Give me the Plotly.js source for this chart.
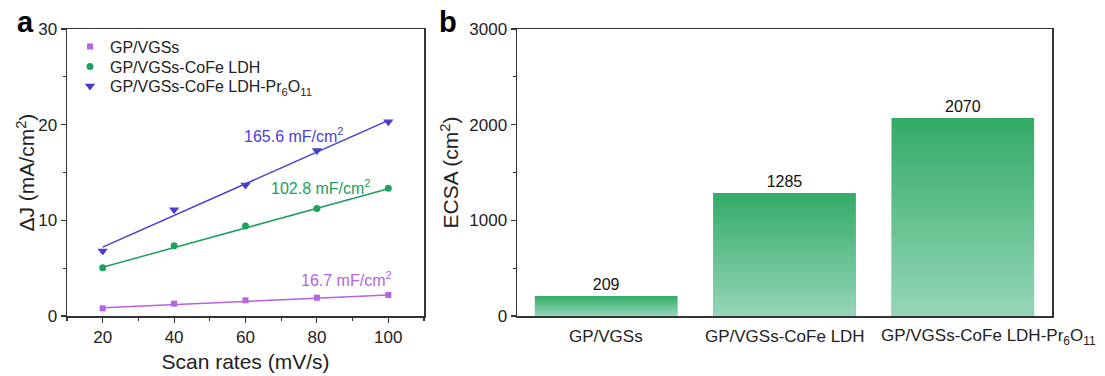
<!DOCTYPE html>
<html>
<head>
<meta charset="utf-8">
<script src="https://cdn.plot.ly/plotly-3.0.1.min.js"></script>
<style>
  html, body { margin: 0; padding: 0; background: #ffffff; }
  #chart { width: 1105px; height: 376px; }
</style>
</head>
<body>
<div id="chart"></div>
<script>
// ---------- Panel a data ----------
const scanRates = [20, 40, 60, 80, 100];
const dJ_GP = [0.80, 1.29, 1.64, 1.91, 2.19];
const dJ_LDH = [5.05, 7.35, 9.40, 11.25, 13.35];
const dJ_Pr = [6.80, 11.10, 13.70, 17.30, 20.30];
const fitX = [20, 100];
const fit_GP = [0.85, 2.19];
const fit_LDH = [5.10, 13.30];
const fit_Pr = [7.20, 20.45];
const seriesNames = ["GP/VGSs", "GP/VGSs-CoFe LDH", "GP/VGSs-CoFe LDH-Pr<sub>6</sub>O<sub>11</sub>"];
const slopeLabels = ["16.7 mF/cm<sup>2</sup>", "102.8 mF/cm<sup>2</sup>", "165.6 mF/cm<sup>2</sup>"];

// ---------- Panel b data ----------
const categories = ["GP/VGSs", "GP/VGSs-CoFe LDH", "GP/VGSs-CoFe LDH-Pr<sub>6</sub>O<sub>11</sub>"];
const ecsa = [209, 1285, 2070];

const cPurple = "#b463e3";
const cGreen = "#20a05e";
const cBlue = "#4a3ed2";
const FONT = "Liberation Sans, Arial, sans-serif";
const W = 1105, H = 376;

const traces = [
  {x: fitX, y: fit_GP, mode: "lines", line: {color: cPurple, width: 1.5}, showlegend: false, xaxis: "x", yaxis: "y", hoverinfo: "skip"},
  {x: fitX, y: fit_LDH, mode: "lines", line: {color: cGreen, width: 1.5}, showlegend: false, xaxis: "x", yaxis: "y", hoverinfo: "skip"},
  {x: fitX, y: fit_Pr, mode: "lines", line: {color: cBlue, width: 1.5}, showlegend: false, xaxis: "x", yaxis: "y", hoverinfo: "skip"},
  {x: scanRates, y: dJ_GP, name: seriesNames[0], legend: "legend", mode: "markers", marker: {symbol: "square", size: 6, color: cPurple}, xaxis: "x", yaxis: "y"},
  {x: scanRates, y: dJ_LDH, name: seriesNames[1], legend: "legend2", mode: "markers", marker: {symbol: "circle", size: 7, color: cGreen}, xaxis: "x", yaxis: "y"},
  {x: scanRates, y: dJ_Pr, name: seriesNames[2], legend: "legend3", mode: "markers", marker: {symbol: "triangle-down", size: 9, color: cBlue}, xaxis: "x", yaxis: "y"},
  {x: categories, y: ecsa, type: "bar", marker: {color: "#5fbf8c", line: {width: 0}}, text: ecsa.map(String), textposition: "outside",
   textfont: {size: 16, color: "#111", family: FONT}, cliponaxis: false, showlegend: false, xaxis: "x2", yaxis: "y2"}
];

const gradSvg = '<svg xmlns="http://www.w3.org/2000/svg" width="100" height="100" viewBox="0 0 100 100" preserveAspectRatio="none">' +
  '<defs><linearGradient id="g" x1="0" y1="0" x2="0" y2="1"><stop offset="0" stop-color="#33ab67"/><stop offset="1" stop-color="#95d6b8"/></linearGradient></defs>' +
  '<rect width="100" height="100" fill="url(#g)"/></svg>';
const gradSrc = "data:image/svg+xml;charset=utf-8," + encodeURIComponent(gradSvg);
const bw = 0.8;
const images = ecsa.map((v, i) => ({
  source: gradSrc, xref: "x2", yref: "y2", x: i - bw / 2, y: v, sizex: bw, sizey: v,
  xanchor: "left", yanchor: "top", sizing: "stretch", layer: "above"
}));

const axisCommon = {
  showline: true, linecolor: "#333", linewidth: 1.5, mirror: true, showgrid: false, zeroline: false,
  ticks: "outside", ticklen: 5, tickwidth: 1.2, tickcolor: "#333",
  tickfont: {family: FONT, size: 17, color: "#222"}
};

const legendBase = {x: 70 / W, xanchor: "left", yanchor: "middle", bgcolor: "rgba(0,0,0,0)",
  font: {family: FONT, size: 16, color: "#222"}, itemwidth: 30};

const catLabelShift = [0, 0, 26];
const catAnnotations = categories.map((c, i) => ({
  text: c, xref: "x2", yref: "paper", x: c, y: -0.073, xanchor: "center", yanchor: "middle",
  xshift: catLabelShift[i], showarrow: false, font: {family: FONT, size: 17, color: "#222"}
}));

const layout = {
  width: W, height: H,
  margin: {l: 0, r: 0, t: 29, b: 60},
  paper_bgcolor: "#ffffff", plot_bgcolor: "#ffffff",
  font: {family: FONT, color: "#222"},
  showlegend: true,
  legend: Object.assign({}, legendBase, {y: 0.9383}),
  legend2: Object.assign({}, legendBase, {y: 0.8687}),
  legend3: Object.assign({}, legendBase, {y: 0.8014}),
  bargap: 0.2,
  xaxis: Object.assign({}, axisCommon, {
    domain: [67 / W, 424 / W], range: [10, 110], tick0: 0, dtick: 20, anchor: "y",
    minor: {dtick: 10, ticks: "outside", ticklen: 3, tickcolor: "#333", tickwidth: 1.2},
    title: {text: "Scan rates (mV/s)", font: {family: FONT, size: 21, color: "#222"}, standoff: 8}
  }),
  yaxis: Object.assign({}, axisCommon, {
    domain: [0, 1], range: [0, 30], dtick: 10, anchor: "x",
    minor: {dtick: 5, ticks: "outside", ticklen: 3, tickcolor: "#333", tickwidth: 1.2}
  }),
  xaxis2: Object.assign({}, axisCommon, {
    domain: [517 / W, 1052 / W], range: [-0.5, 2.5], type: "category", anchor: "y2", ticks: "", showticklabels: false
  }),
  yaxis2: Object.assign({}, axisCommon, {
    domain: [0, 1], range: [0, 3000], dtick: 1000, anchor: "x2",
    minor: {dtick: 500, ticks: "outside", ticklen: 3, tickcolor: "#333", tickwidth: 1.2}
  }),
  images: images,
  annotations: [
    {text: "<b>a</b>", xref: "paper", yref: "paper", x: 25 / W, y: 1.026, xanchor: "center", yanchor: "middle", showarrow: false, font: {family: FONT, size: 29, color: "#000"}},
    {text: "<b>b</b>", xref: "paper", yref: "paper", x: 448 / W, y: 1.026, xanchor: "center", yanchor: "middle", showarrow: false, font: {family: FONT, size: 29, color: "#000"}},
    {text: "ΔJ (mA/cm<sup>2</sup>)", xref: "paper", yref: "paper", x: 25 / W, y: 0.5, xanchor: "center", yanchor: "middle", textangle: -90, showarrow: false, font: {family: FONT, size: 21, color: "#222"}},
    {text: "ECSA (cm<sup>2</sup>)", xref: "paper", yref: "paper", x: 449 / W, y: 0.5, xanchor: "center", yanchor: "middle", textangle: -90, showarrow: false, font: {family: FONT, size: 21, color: "#222"}},
    {text: slopeLabels[2], xref: "x", yref: "y", x: 59, y: 18.9, xanchor: "left", yanchor: "middle", showarrow: false, font: {family: FONT, size: 16, color: cBlue}},
    {text: slopeLabels[1], xref: "x", yref: "y", x: 66.5, y: 13.5, xanchor: "left", yanchor: "middle", showarrow: false, font: {family: FONT, size: 16, color: cGreen}},
    {text: slopeLabels[0], xref: "x", yref: "y", x: 75, y: 3.9, xanchor: "left", yanchor: "middle", showarrow: false, font: {family: FONT, size: 16, color: cPurple}}
  ].concat(catAnnotations)
};

Plotly.newPlot("chart", traces, layout, {displayModeBar: false, staticPlot: true});
</script>
</body>
</html>
